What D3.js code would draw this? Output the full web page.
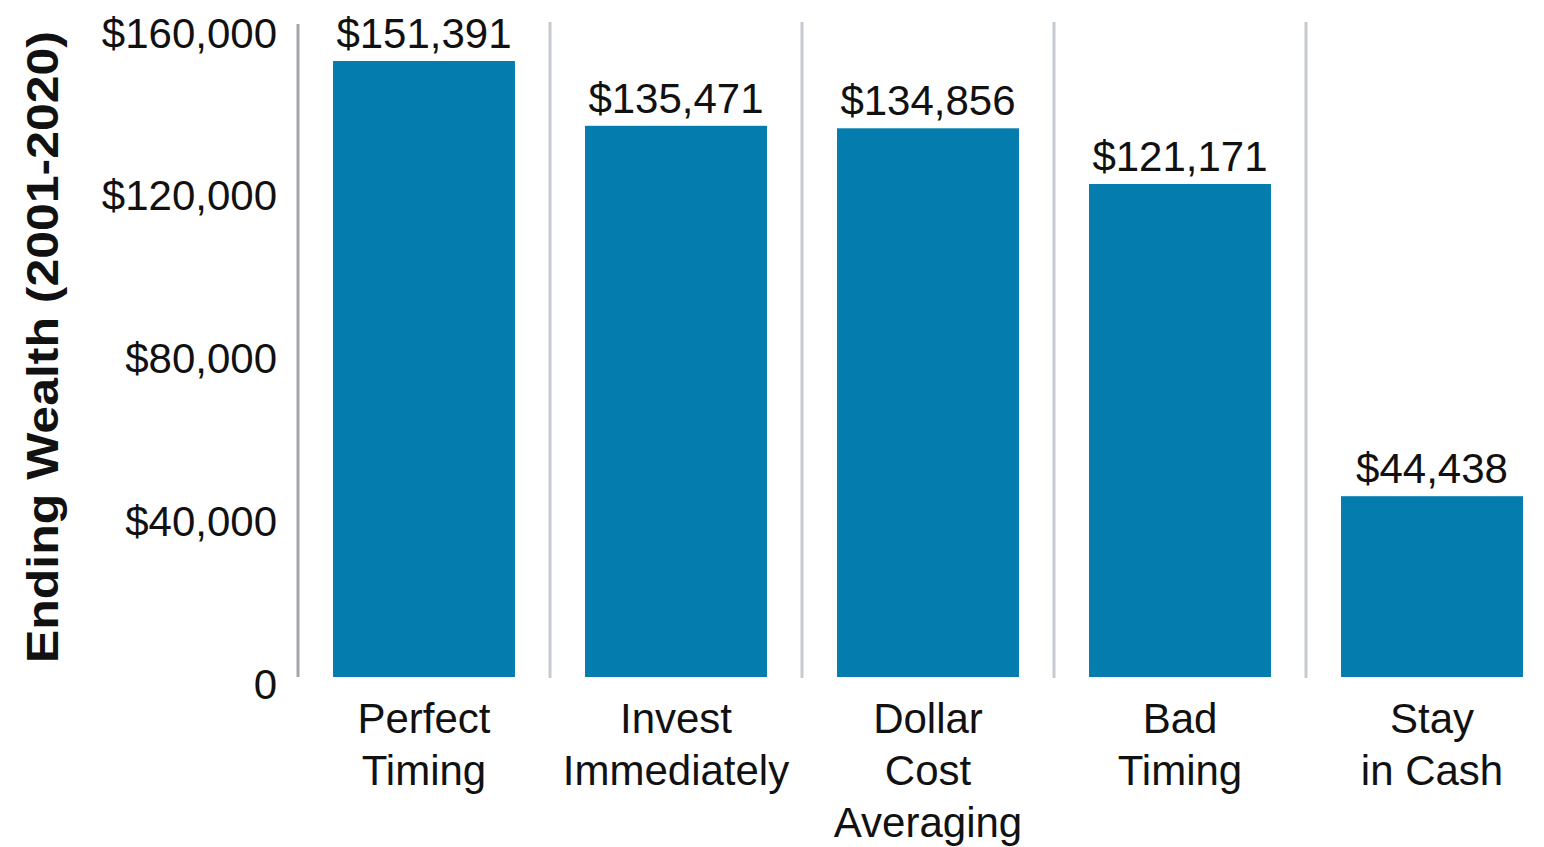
<!DOCTYPE html>
<html>
<head>
<meta charset="utf-8">
<script src="https://cdn.jsdelivr.net/npm/d3@7"></script>
<style>
  body { margin: 0; background: #fff; }
  text { font-family: 'Liberation Sans', Arial, sans-serif; fill: #111; }
</style>
</head>
<body>
<div id="chart"></div>
<script>
const categories = [
  ['Perfect', 'Timing'],
  ['Invest', 'Immediately'],
  ['Dollar', 'Cost', 'Averaging'],
  ['Bad', 'Timing'],
  ['Stay', 'in Cash']
];
const values = [151391, 135471, 134856, 121171, 44438];
const yTicks = [0, 40000, 80000, 120000, 160000];
const yTitle = 'Ending Wealth (2001-2020)';

const W = 1544, H = 847;
const x0 = 298, x1 = 1558, yBase = 677, yTop = 26;

const svg = d3.select('#chart').append('svg').attr('width', W).attr('height', H);

const xScale = d3.scaleBand()
  .domain(d3.range(values.length))
  .range([x0, x1])
  .paddingInner(0.278)
  .paddingOuter(0.139);

const yScale = d3.scaleLinear().domain([0, 160000]).range([yBase, yTop]);

const fmt = d3.format('$,');

// separators between categories
const step = xScale.step();
svg.selectAll('.sep')
  .data(d3.range(1, values.length))
  .enter()
  .append('line')
  .attr('class', 'sep')
  .attr('x1', (i) => x0 + i * step)
  .attr('x2', (i) => x0 + i * step)
  .attr('y1', 22)
  .attr('y2', yBase + 1)
  .style('stroke', '#c6cbd1')
  .style('stroke-width', 3);

// y axis
const yAxis = svg.append('g')
  .attr('class', 'y-axis')
  .attr('transform', `translate(${x0},0)`)
  .call(d3.axisLeft(yScale).tickValues(yTicks).tickSize(0).tickPadding(21)
    .tickFormat((d) => (d === 0 ? '0' : fmt(d))));
yAxis.select('.domain').remove();
yAxis.selectAll('text')
  .attr('dy', '0.5em')
  .style('font-size', '42px')
  .style('fill', '#111');

svg.append('line')
  .attr('x1', x0).attr('x2', x0)
  .attr('y1', 24).attr('y2', yBase)
  .style('stroke', '#a3a7ac')
  .style('stroke-width', 3);

// bars
svg.selectAll('.bar')
  .data(values)
  .enter()
  .append('rect')
  .attr('class', 'bar')
  .attr('x', (d, i) => xScale(i))
  .attr('y', (d) => yScale(d))
  .attr('width', xScale.bandwidth())
  .attr('height', (d) => yBase - yScale(d))
  .style('fill', '#047cae');

// value labels
svg.selectAll('.value-label')
  .data(values)
  .enter()
  .append('text')
  .attr('class', 'value-label')
  .attr('x', (d, i) => xScale(i) + xScale.bandwidth() / 2)
  .attr('y', (d) => yScale(d) - 13)
  .style('text-anchor', 'middle')
  .style('font-size', '42px')
  .text((d) => fmt(d));

// category labels
const cat = svg.selectAll('.cat-label')
  .data(categories)
  .enter()
  .append('text')
  .attr('class', 'cat-label')
  .attr('x', (d, i) => xScale(i) + xScale.bandwidth() / 2)
  .attr('y', 733)
  .style('text-anchor', 'middle')
  .style('font-size', '42px');
cat.selectAll('tspan')
  .data((d, i) => d.map((t) => ({ t, x: xScale(i) + xScale.bandwidth() / 2 })))
  .enter()
  .append('tspan')
  .attr('x', (d) => d.x)
  .attr('dy', (d, j) => (j === 0 ? 0 : 52))
  .text((d) => d.t);

// y title
svg.append('text')
  .attr('transform', 'rotate(-90)')
  .attr('x', -347)
  .attr('y', 58)
  .attr('textLength', 632)
  .attr('lengthAdjust', 'spacingAndGlyphs')
  .style('text-anchor', 'middle')
  .style('font-size', '44px')
  .style('font-weight', 'bold')
  .text(yTitle);
</script>
</body>
</html>
